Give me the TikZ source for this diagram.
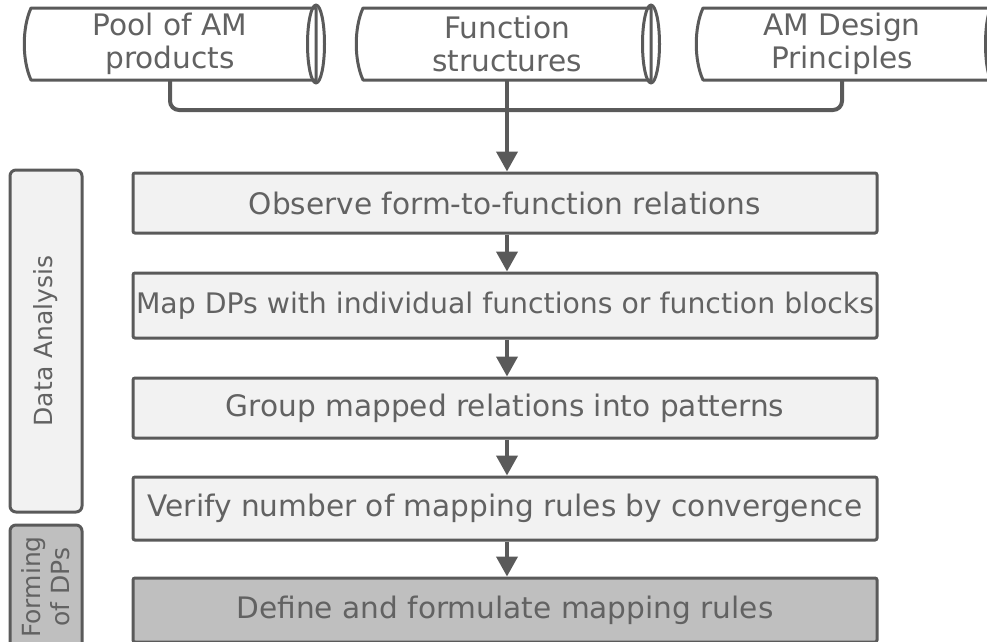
\documentclass[tikz,border=0pt]{standalone}
\usepackage{fontspec}
\setmainfont{DejaVu Sans}
\usetikzlibrary{arrows.meta,calc}
\definecolor{ln}{HTML}{5A5A5A}
\definecolor{tx}{HTML}{626262}
\definecolor{lf}{HTML}{F2F2F2}
\definecolor{df}{HTML}{BFBFBF}
\newcommand\cylshape[4]{%
  \draw[cylline,fill=white] (#1+6,#3) -- (#2-8,#3) -- (#2-8,#4) -- (#1+6,#4)
     .. controls (#1-3,#4-20) and (#1-3,#3+20) .. cycle;
  \draw[cylline] (#2-8,{(#3+#4)/2}) ellipse [x radius=8.5, y radius={(#4-#3)/2+3}];
}
\begin{document}
\begin{tikzpicture}[x=1pt,y=-1pt,
  cylline/.style={draw=ln, line width=3pt, line join=round},
  cyltext/.style={align=center, text=tx, font=\fontsize{29.6}{33.5}\selectfont, inner sep=0pt, minimum height=72pt},
  stepbox/.style={draw=ln, line width=3pt, fill=lf, rounded corners=2pt, minimum width=744pt, text=tx, font=\fontsize{29.6}{34}\selectfont, inner sep=0pt},
  darkbox/.style={stepbox, fill=df},
  sidebar/.style={draw=ln, line width=3pt, rounded corners=6pt, rotate=90, minimum height=72pt, text=tx, font=\fontsize{25}{29}\selectfont, align=center, inner sep=0pt},
  conn/.style={draw=ln, line width=4pt, rounded corners=9pt},
  arr/.style={draw=ln, line width=4pt, -{Triangle[length=20pt, width=21pt]}}
]
\useasboundingbox (0,0) rectangle (987,641);
\clip (0,0) rectangle (987,641);

% top sources
\cylshape{25}{324}{8}{80}
\cylshape{357}{659}{8}{80}
\cylshape{697}{1002}{8}{80}
\node[cyltext, minimum width=290pt] (pool) at (170,44) {Pool of AM\\products};
\node[cyltext, minimum width=290pt] (fs) at (507,44) {Function\\structures};
\node[cyltext, minimum width=288pt] (amd) at (842,44) {AM Design\\Principles};

% side bars
\node[sidebar, fill=lf, minimum width=342pt] (da) at (46,341) {Data Analysis};
\node[sidebar, fill=df, minimum width=124pt] (fd) at (46,587) {Forming\\of DPs};

% process boxes
\node[stepbox, minimum height=60pt] (obs) at (505,203) {Observe form-to-function relations};
\node[stepbox, minimum height=65pt, font=\fontsize{28.3}{34}\selectfont] (map) at (505,305.5) {Map DPs with individual functions or function blocks};
\node[stepbox, minimum height=60pt] (grp) at (505,408) {Group mapped relations into patterns};
\node[stepbox, minimum height=63pt] (ver) at (505,508.5) {Verify number of mapping rules by convergence};
\node[darkbox, minimum height=64pt] (def) at (505,610) {Define and formulate mapping rules};

% connectors
\coordinate (j) at (507,110);
\draw[conn] (pool.south) -- (pool.south |- j) -- (j);
\draw[conn] (amd.south) -- (amd.south |- j) -- (j);
\draw[arr] (fs.south) -- (fs.south |- obs.north);
\draw[arr] (obs.south -| fs.south) -- (fs.south |- map.north);
\draw[arr] (map.south -| fs.south) -- (fs.south |- grp.north);
\draw[arr] (grp.south -| fs.south) -- (fs.south |- ver.north);
\draw[arr] (ver.south -| fs.south) -- (fs.south |- def.north);
\end{tikzpicture}
\end{document}
